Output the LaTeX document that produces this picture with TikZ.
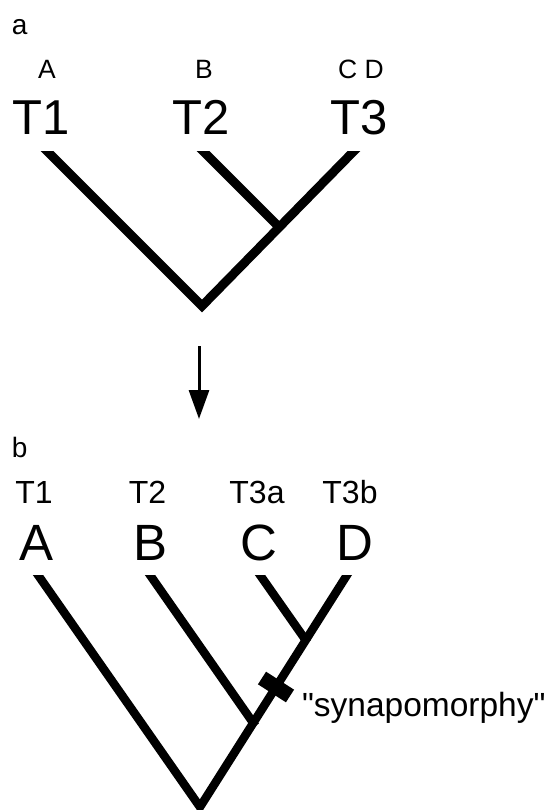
\documentclass[tikz,border=0pt]{standalone}
\usepackage{fontspec}
\setmainfont{Liberation Sans}
\newfontfamily\notefont{Liberation Sans}
\usetikzlibrary{arrows.meta,calc}
\begin{document}
\begin{tikzpicture}[x=1pt,y=-1pt,
  brA/.style={line width=9pt,line cap=butt,line join=miter},
  brB/.style={line width=8.5pt,line cap=butt,line join=miter},
  lbl/.style={anchor=base,inner sep=0pt,outer sep=0pt},
  panel/.style={lbl,anchor=base west,font=\fontsize{28}{30}\selectfont},
  small/.style={lbl,font=\fontsize{26.5}{30}\selectfont},
  smallb/.style={lbl,font=\fontsize{32}{36}\selectfont},
  big/.style={lbl,font=\fontsize{49}{55}\selectfont},
  bigb/.style={lbl,font=\fontsize{51}{56}\selectfont},
  note/.style={lbl,anchor=base west,font=\notefont\fontsize{33.5}{36}\selectfont}]
\useasboundingbox (0,0) rectangle (550,810);

% ---------- panel a ----------
\node[panel] (pa) at (12,35) {a};
\node[small] (la) at (47,79) {A};
\node[small] (lb) at (204,79) {B};
\node[small] (lcd) at (361,79) {C D};
\node[big] (t1) at (41,135) {T1};
\node[big] (t2) at (201,135) {T2};
\node[big] (t3) at (359,135) {T3};

\coordinate (a1) at (48,152);
\coordinate (a2) at (204,152);
\coordinate (a3) at (353,152);
\coordinate (ra) at (202,306);
\coordinate (ja) at (279,227);
\begin{scope}
  \clip (0,152) rectangle (550,330);
  \draw[brA] ($(ra)!1.06!(a1)$) -- (ra) -- ($(ra)!1.06!(a3)$);
  \draw[brA] ($(ja)!1.12!(a2)$) -- (ja);
\end{scope}

% ---------- arrow ----------
\coordinate (arrS) at (199,346);
\coordinate (arrE) at (199,419);
\draw[line width=3pt,-{Triangle[length=29pt,width=20pt]}] (arrS) -- (arrE);

% ---------- panel b ----------
\node[panel] (pb) at (12,457) {b};
\node[smallb] (u1) at (34,503) {T1};
\node[smallb] (u2) at (147.5,503) {T2};
\node[smallb] (u3) at (257,503) {T3a};
\node[smallb] (u4) at (350,503) {T3b};
\node[bigb] (nA) at (37,560) {A};
\node[bigb] (nB) at (150.5,560) {B};
\node[bigb] (nC) at (259,560) {C};
\node[bigb] (nD) at (354.5,560) {D};

\coordinate (b1) at (38,575);
\coordinate (b2) at (150,575);
\coordinate (b3) at (260,575);
\coordinate (b4) at (347,575);
\coordinate (rb) at (200,807);
\coordinate (jb) at (253.3,723);
\coordinate (jc) at (305.6,640);
\begin{scope}
  \clip (0,575) rectangle (550,810);
  \draw[brB] ($(rb)!1.05!(b1)$) -- (rb) -- ($(rb)!1.05!(b4)$);
  \draw[brB] ($(jb)!1.08!(b2)$) -- ($(b2)!1.02!(jb)$);
  \draw[brB] ($(jc)!1.15!(b3)$) -- ($(b3)!1.04!(jc)$);
\end{scope}

% synapomorphy mark
\coordinate (m) at (276,687);
\coordinate (m1) at (262,678);
\coordinate (m2) at (290,696);
\draw[line width=15pt,line cap=butt] (m1) -- (m2);
\node[note] (syn) at (302,716) {"synapomorphy"};
\end{tikzpicture}
\end{document}
